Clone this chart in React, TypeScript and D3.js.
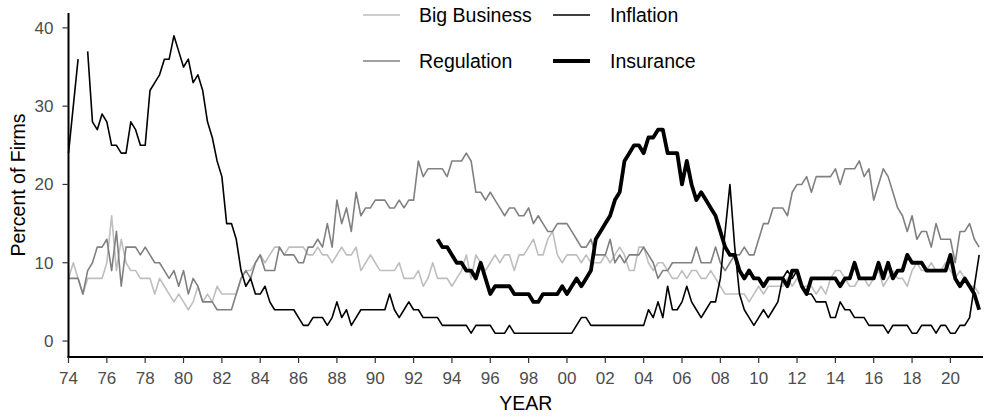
import { scaleLinear, line, range } from "d3";
import { useMemo } from "react";

const width = 985;
const height = 417;
const margin = { top: 13, right: 2, bottom: 60, left: 68.5 };
const fontFamily = "'Liberation Sans', Arial, Helvetica, sans-serif";

// quarterly observations, first quarter of 1974 onwards
const firstYear = 1974;
const xTicks = range(1974, 2021, 2);
const yTicks = [0, 10, 20, 30, 40];
const xAxisLabel = "YEAR";
const yAxisLabel = "Percent of Firms";

const bigBusiness = [
  8, 10, 8, 6, 8, 8, 8, 8, 10, 16, 9, 13, 10, 9, 9, 8, 8, 8, 6, 8,
  7, 6, 5, 6, 5, 4, 5, 7, 5, 6, 5, 7, 6, 6, 6, 6, 8, 9, 9, 10,
  11, 10, 11, 12, 12, 11, 12, 12, 12, 12, 11, 11, 12, 11, 11, 10, 11, 12, 11, 11,
  12, 9, 10, 11, 10, 9, 9, 9, 9, 10, 8, 8, 8, 9, 7, 8, 10, 8, 8, 8,
  7, 8, 9, 11, 8, 11, 10, 9, 10, 11, 10, 11, 11, 9, 11, 11, 12, 13, 11, 11,
  13, 14, 11, 10, 11, 11, 11, 10, 11, 10, 10, 10, 11, 10, 11, 12, 11, 9, 9, 12,
  12, 10, 9, 10, 10, 9, 8, 8, 9, 8, 9, 9, 8, 8, 9, 8, 7, 6, 6, 6,
  6, 6, 5, 6, 7, 6, 7, 7, 7, 7, 8, 7, 8, 7, 7, 7, 6, 7, 6, 8,
  9, 9, 8, 7, 7, 8, 8, 7, 8, 9, 7, 8, 9, 8, 8, 7, 9, 10, 9, 9,
  10, 9, 9, 10, 9, 8, 9, 8, 7, 7, 6,
];

const regulation = [
  8, 8, 8, 6, 9, 10, 12, 12, 13, 9, 14, 7, 12, 12, 12, 11, 12, 11, 10, 10,
  9, 8, 9, 7, 9, 6, 8, 7, 5, 5, 5, 4, 4, 4, 4, 6, 8, 9, 8, 10,
  11, 9, 9, 9, 12, 11, 11, 11, 10, 10, 12, 12, 13, 12, 15, 12, 18, 15, 17, 14,
  19, 16, 17, 17, 18, 18, 18, 17, 17, 18, 17, 18, 18, 23, 21, 22, 22, 22, 22, 21,
  23, 23, 23, 24, 23, 19, 19, 18, 19, 18, 17, 16, 17, 17, 16, 16, 17, 15, 16, 15,
  14, 14, 15, 15, 15, 14, 13, 12, 12, 13, 11, 11, 11, 13, 10, 11, 10, 11, 11, 11,
  12, 11, 10, 8, 9, 9, 10, 10, 10, 10, 10, 12, 10, 10, 10, 12, 10, 9, 10, 11,
  11, 12, 11, 11, 13, 15, 15, 17, 17, 17, 16, 19, 20, 20, 21, 19, 21, 21, 21, 21,
  22, 20, 22, 22, 22, 23, 21, 22, 18, 20, 22, 21, 19, 17, 16, 14, 16, 13, 14, 14,
  12, 15, 13, 13, 13, 10, 14, 14, 15, 13, 12,
];

const inflation = [
  24, 30, 36, null, 37, 28, 27, 29, 28, 25, 25, 24, 24, 28, 27, 25, 25, 32, 33, 34,
  36, 36, 39, 37, 35, 36, 33, 34, 32, 28, 26, 23, 21, 15, 15, 13, 9, 7, 8, 6,
  6, 7, 5, 4, 4, 4, 4, 4, 3, 2, 2, 3, 3, 3, 2, 3, 5, 3, 4, 2,
  3, 4, 4, 4, 4, 4, 4, 6, 4, 3, 4, 5, 4, 4, 3, 3, 3, 3, 2, 2,
  2, 2, 2, 2, 1, 2, 2, 2, 2, 1, 1, 1, 2, 1, 1, 1, 1, 1, 1, 1,
  1, 1, 1, 1, 1, 1, 2, 3, 3, 2, 2, 2, 2, 2, 2, 2, 2, 2, 2, 2,
  2, 4, 3, 5, 3, 7, 4, 4, 5, 7, 5, 4, 3, 4, 5, 5, 8, 14, 20, 12,
  6, 4, 3, 2, 3, 4, 3, 4, 5, 8, 9, 8, 9, 7, 6, 6, 5, 5, 5, 3,
  3, 5, 4, 4, 3, 3, 3, 2, 2, 2, 2, 1, 2, 2, 2, 2, 1, 1, 2, 2,
  2, 1, 2, 2, 1, 1, 2, 2, 3, 7, 11,
];

// insurance is only asked from the second quarter of 1993
const insuranceStart = 1993.25;
const insurance = [
  13, 12, 12, 11, 10, 10, 9, 9, 8, 10, 8, 6, 7, 7, 7, 7, 6, 6, 6,
  6, 5, 5, 6, 6, 6, 6, 7, 6, 7, 8, 7, 8, 9, 13, 14, 15, 16, 18, 19,
  23, 24, 25, 25, 24, 26, 26, 27, 27, 24, 24, 24, 20, 23, 20, 18, 19, 18, 17, 16,
  14, 12, 11, 11, 9, 8, 9, 8, 8, 7, 8, 8, 8, 8, 7, 9, 9, 7, 6, 8,
  8, 8, 8, 8, 8, 7, 8, 8, 10, 8, 8, 8, 8, 10, 8, 10, 8, 9, 9, 11,
  10, 10, 10, 9, 9, 9, 9, 9, 11, 8, 7, 8, 7, 6, 4,
];

const series = [
  { name: "Big Business", values: bigBusiness, start: firstYear, color: "#bebebe", width: 1.6 },
  { name: "Regulation", values: regulation, start: firstYear, color: "#808080", width: 1.6 },
  { name: "Inflation", values: inflation, start: firstYear, color: "#000000", width: 1.6 },
  { name: "Insurance", values: insurance, start: insuranceStart, color: "#000000", width: 3.8 },
];

const legendRows = [
  ["Big Business", "Inflation"],
  ["Regulation", "Insurance"],
];

export default function App() {
  const innerRight = width - margin.right;
  const innerBottom = height - margin.bottom;

  const xScale = useMemo(
    () => scaleLinear().domain([1974, 2021.7]).range([margin.left, innerRight]),
    [innerRight]
  );
  const yScale = useMemo(
    () => scaleLinear().domain([-2.04, 41.9]).range([innerBottom, margin.top]),
    [innerBottom]
  );

  const paths = useMemo(
    () =>
      series.map((s) => {
        const pts = s.values.map((v, i) => ({ x: s.start + i * 0.25, y: v }));
        const gen = line()
          .defined((d) => d.y !== null)
          .x((d) => xScale(d.x))
          .y((d) => yScale(d.y));
        return { ...s, d: gen(pts) };
      }),
    [xScale, yScale]
  );

  const byName = Object.fromEntries(series.map((s) => [s.name, s]));
  const legendKeyX = [363, 553];
  const legendTextX = [419, 610];
  const legendY = [15, 61];

  return (
    <svg
      width={width}
      height={height}
      style={{ position: "absolute", left: 0, top: 0, background: "#fff" }}
      fontFamily={fontFamily}
    >
      <rect width={width} height={height} fill="#fff" />

      {paths.map((p) => (
        <path
          key={p.name}
          d={p.d}
          fill="none"
          stroke={p.color}
          strokeWidth={p.width}
          strokeLinejoin="round"
        />
      ))}

      {/* axes */}
      <line x1={margin.left} x2={margin.left} y1={margin.top} y2={innerBottom + 1} stroke="#000" strokeWidth={2} />
      <line x1={margin.left - 1} x2={innerRight} y1={innerBottom} y2={innerBottom} stroke="#000" strokeWidth={2} />

      {xTicks.map((t) => (
        <g key={t} transform={`translate(${xScale(t)},${innerBottom})`}>
          <line y1={0} y2={6} stroke="#333" strokeWidth={1.2} />
          <text y={27} textAnchor="middle" fontSize={17} fill="#4d4d4d">
            {String(t % 100).padStart(2, "0")}
          </text>
        </g>
      ))}
      {yTicks.map((t) => (
        <g key={t} transform={`translate(${margin.left},${yScale(t)})`}>
          <line x1={-6} x2={0} stroke="#333" strokeWidth={1.2} />
          <text x={-15} dy="0.35em" textAnchor="end" fontSize={17} fill="#4d4d4d">
            {t}
          </text>
        </g>
      ))}

      <text x={(margin.left + innerRight) / 2} y={410} textAnchor="middle" fontSize={19.5} fill="#000">
        {xAxisLabel}
      </text>
      <text
        transform={`translate(25,${(margin.top + innerBottom) / 2}) rotate(-90)`}
        textAnchor="middle"
        fontSize={19.5}
        fill="#000"
      >
        {yAxisLabel}
      </text>

      {/* legend */}
      {legendRows.map((row, r) =>
        row.map((name, c) => {
          const s = byName[name];
          return (
            <g key={name}>
              <line
                x1={legendKeyX[c]}
                x2={legendKeyX[c] + 37}
                y1={legendY[r]}
                y2={legendY[r]}
                stroke={s.color}
                strokeWidth={s.width}
              />
              <text x={legendTextX[c]} y={legendY[r]} dy="0.35em" fontSize={19.5} fill="#000">
                {name}
              </text>
            </g>
          );
        })
      )}
    </svg>
  );
}
